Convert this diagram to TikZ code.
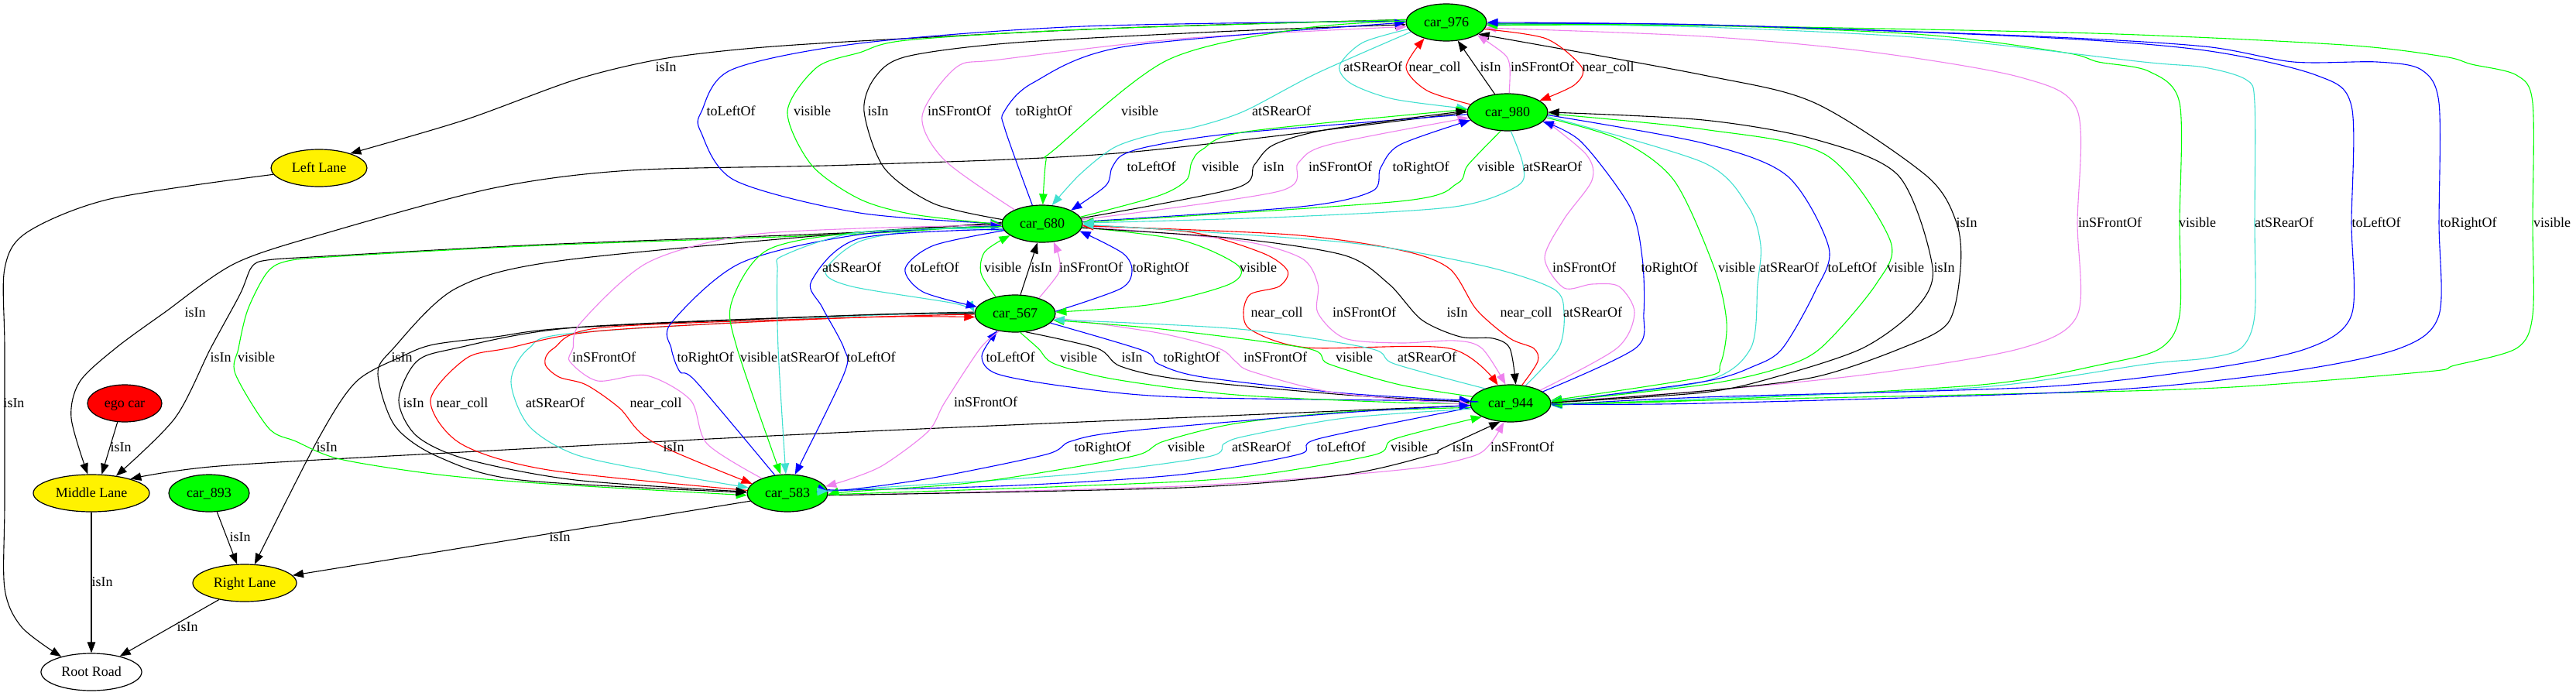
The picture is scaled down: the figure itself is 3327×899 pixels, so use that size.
\documentclass[tikz,border=0pt]{standalone}
\usepackage{fontspec}
\setmainfont{Liberation Serif}
\usetikzlibrary{shapes.geometric,arrows.meta}
\definecolor{turq}{HTML}{40E0D0}
\definecolor{viol}{HTML}{EE82EE}
\definecolor{lime}{HTML}{00FF00}
\newcounter{lbn}
\newcommand{\edgeline}[2]{\draw[conn,#1] plot[smooth,tension=0.5] coordinates {#2};}
\newcommand{\lbl}[3]{\stepcounter{lbn}\node[lab,name=lb\thelbn] at (#1,#2+5.5) {#3};}
\tikzset{
  carn/.style={draw=black,line width=1.2pt,ellipse,inner sep=0pt,text height=11.5pt,text depth=0pt,minimum height=48pt,font=\fontsize{18}{20}\selectfont},
  conn/.style={line width=1.1pt,-{Triangle[length=14pt,width=10.5pt]}},
  lab/.style={anchor=base,inner sep=0pt,font=\fontsize{18}{20}\selectfont}
}
\begin{document}
\begin{tikzpicture}[x=1pt,y=-1pt]
\useasboundingbox (0,0) rectangle (3327,899);
\fill[white] (0,0) rectangle (3327,899);
% nodes
\node[carn,fill=lime,minimum width=104pt] (c976) at (1868,29) {car\_976};
\node[carn,fill=lime,minimum width=104pt] (c980) at (1947,145) {car\_980};
\node[carn,fill=lime,minimum width=104pt] (c680) at (1346,289) {car\_680};
\node[carn,fill=lime,minimum width=104pt] (c567) at (1311,405) {car\_567};
\node[carn,fill=lime,minimum width=104pt] (c944) at (1951,521) {car\_944};
\node[carn,fill=lime,minimum width=104pt] (c583) at (1017,637) {car\_583};
\node[carn,fill=lime,minimum width=104pt] (c893) at (270,637) {car\_893};
\node[carn,fill=red,minimum width=96pt] (ego) at (161,521) {ego car};
\node[carn,fill=yellow,minimum width=124pt] (left) at (412,217) {Left Lane};
\node[carn,fill=yellow,minimum width=150pt] (mid) at (118,637) {Middle Lane};
\node[carn,fill=yellow,minimum width=134pt] (right) at (316,753) {Right Lane};
\node[carn,fill=white,minimum width=130pt] (root) at (118,868) {Root Road};
% lanes and roads
\edgeline{black}{(c976.176) (1450,36) (1110,53) (963,63) (850,77) (743,103) (600,155) (left.25)}
\edgeline{black}{(left.188) (142,257) (35,300) (6,347) (6,450) (6,650) (6,760) (28,810) (root.153)}
\draw[conn,black] (mid.270) -- (root.90);
\draw[conn,black] (ego.249) -- (mid.61);
\draw[conn,black] (c893.293) -- (right.112);
\draw[conn,black] (c583.192) -- (right.9);
\draw[conn,black] (right.213) -- (root.29);
\edgeline{black}{(c680.178) (1110,300) (700,316) (420,331) (345,336) (325,345) (310,380) (272,450) (226,540) (mid.35)}
\edgeline{black}{(c944.183) (1100,558) (616,583) (283,602) (mid.20)}
\edgeline{black}{(c980.180) (1454,197) (1100,213) (814,220) (637,243) (425,300) (304,340) (212,404) (149,450) (103,493) (92,540) (mid.101)}
\edgeline{black}{(c567.178) (1110,407) (743,423) (640,435) (560,445) (520,460) (460,493) (411,567) (right.62)}
% 976 <-> 944 (far right)
\edgeline{viol}{(c944.2) (2200,505) (2416,483) (2610,450) (2683,407) (2683,288) (2683,143) (2610,100) (2416,67) (2200,47) (c976.352)}
\edgeline{lime}{(c944.358) (2200,517) (2559,497) (2718,470) (2790,450) (2815,407) (2815,288) (2815,133) (2775,92) (2710,80) (2667,68) (2487,45) (2200,33) (c976.356)}
\edgeline{black}{(c944.1) (2200,505) (2344,487) (2455,450) (2516,417) (2532,347) (2527,288) (2488,227) (2344,133) (2200,97) (c976.340)}
\edgeline{turq}{(c976.358) (2200,35) (2500,50) (2768,80) (2847,87) (2901,103) (2912,133) (2912,288) (2912,407) (2894,450) (2847,463) (2775,470) (2559,500) (2200,515) (c944.357)}
\edgeline{blue}{(c976.358) (2200,32) (2631,48) (2847,65) (2991,97) (3037,137) (3037,288) (3037,407) (2980,450) (2847,477) (2631,500) (2200,513) (c944.358)}
\edgeline{lime}{(c976.358) (2200,33) (2703,43) (3027,58) (3156,73) (3192,83) (3250,97) (3271,133) (3271,288) (3271,407) (3250,450) (3170,472) (3135,480) (2883,500) (2631,508) (2200,517) (c944.359)}
\edgeline{blue}{(c944.359) (2200,521) (2703,505) (2955,480) (3099,450) (3150,407) (3150,288) (3150,133) (3127,90) (3070,80) (2962,80) (2847,60) (2631,47) (2200,32) (c976.0)}
% 980 -> 944 right side
\edgeline{lime}{(c980.352) (2091,180) (2162,233) (2214,346) (2230,417) (2222,470) (2200,487) (c944.4)}
\edgeline{turq}{(c980.354) (2200,210) (2258,267) (2274,317) (2270,367) (2261,450) (2200,493) (c944.3)}
\edgeline{blue}{(c980.356) (2200,185) (2308,227) (2362,320) (2344,377) (2302,450) (2265,473) (2200,493) (c944.2)}
\edgeline{lime}{(c980.358) (2200,167) (2358,200) (2441,310) (2423,367) (2351,450) (2293,477) (2200,497) (c944.2)}
\edgeline{black}{(c944.1) (2200,507) (2293,487) (2405,450) (2473,400) (2496,346) (2452,227) (2344,180) (2200,155) (c980.0)}
\edgeline{viol}{(c944.24) (2088,450) (2111,404) (2091,370) (2056,367) (2020,372) (1995,333) (2020,283) (2056,233) (2049,200) (c980.348)}
\edgeline{blue}{(c944.20) (2112,450) (2123,404) (2121,333) (2105,267) (2042,183) (c980.345)}
% 976 <-> 980
\edgeline{turq}{(c976.190) (1760,55) (1730,85) (1745,108) (1800,128) (c980.175)}
\edgeline{red}{(c980.168) (1843,117) (1816,87) (c976.216)}
\draw[conn,black] (c980.125) -- (c976.302);
\edgeline{viol}{(c980.85) (1950,87) (1943,70) (c976.338)}
\edgeline{red}{(c976.350) (1997,50) (2043,87) (2033,110) (c980.20)}
% 976 <-> 680
\edgeline{blue}{(c976.178) (1400,34) (1110,56) (945,90) (906,144) (905,170) (949,233) (1110,275) (c680.180)}
\edgeline{lime}{(c976.176) (1400,38) (1171,52) (1110,68) (1055,87) (1017,144) (1048,213) (1110,257) (1180,277) (c680.181)}
\edgeline{black}{(c680.174) (1206,263) (1142,217) (1116,144) (1130,100) (1171,73) (1312,55) (1595,40) (c976.183)}
\edgeline{viol}{(c680.153) (1220,207) (1191,150) (1235,87) (1291,77) (1525,50) (c976.186)}
\edgeline{blue}{(c680.118) (1298,167) (1297,144) (1334,107) (1454,60) (c976.180)}
\edgeline{lime}{(c976.178) (1680,37) (1507,78) (1362,193) (1351,207) (c680.88)}
\edgeline{turq}{(c976.195) (1700,95) (1606,144) (1540,165) (1496,172) (1440,190) (1395,225) (c680.62)}
% 980 <-> 680
\edgeline{blue}{(c980.183) (1596,172) (1490,188) (1450,200) (1436,217) (1428,240) (c680.25)}
\edgeline{lime}{(c680.10) (1496,253) (1532,233) (1539,210) (1553,193) (1610,170) (c980.176)}
\edgeline{black}{(c680.8) (1596,243) (1620,213) (1645,187) (1716,167) (c980.178)}
\edgeline{viol}{(c680.6) (1652,247) (1677,210) (1716,187) (c980.188)}
\edgeline{blue}{(c680.3) (1680,267) (1772,247) (1783,217) (1808,187) (c980.192)}
\edgeline{lime}{(c980.250) (1896,213) (1882,237) (1808,260) (c680.2)}
\edgeline{turq}{(c980.280) (1967,213) (1960,240) (1879,267) (1666,280) (c680.1)}
% 680 <-> 567
\edgeline{turq}{(c680.190) (1200,296) (1110,312) (1066,350) (1100,370) (1233,392) (c567.178)}
\edgeline{blue}{(c680.190) (1206,317) (1169,347) (1192,377) (c567.170)}
\edgeline{lime}{(c567.139) (1267,353) (1272,325) (c680.200)}
\draw[conn,black] (c567.74) -- (c680.256);
\edgeline{viol}{(c567.33) (1367,353) (1368,333) (c680.302)}
\edgeline{blue}{(c567.3) (1447,373) (1462,350) (1450,327) (c680.349)}
\edgeline{lime}{(c680.355) (1525,310) (1599,343) (1588,367) (1489,393) (c567.2)}
% 680 <-> 944
\edgeline{red}{(c680.358) (1539,300) (1631,327) (1663,350) (1652,370) (1615,380) (1606,404) (1617,427) (1688,449) (1872,450) (c944.125)}
\edgeline{viol}{(c680.356) (1596,310) (1680,333) (1702,367) (1702,404) (1737,437) (1808,443) (1879,440) (1914,450) (c944.105)}
\edgeline{black}{(c680.354) (1596,308) (1737,330) (1794,367) (1836,413) (1886,435) (1928,437) (1950,450) (c944.75)}
\edgeline{red}{(c944.58) (1986,467) (1981,450) (1950,437) (1907,400) (1872,347) (1808,323) (1666,303) (c680.357)}
\edgeline{turq}{(c944.50) (2013,450) (2020,404) (2006,373) (1914,343) (1737,313) (c680.359)}
% 567 <-> 944
\edgeline{blue}{(c944.178) (1879,518) (1525,513) (1383,500) (1288,483) (1268,460) (c567.224)}
\edgeline{viol}{(c567.228) (1266,450) (1220,520) (1199,557) (1142,600) (1100,618) (c583.10)}
\edgeline{lime}{(c567.285) (1341,450) (1362,470) (1440,490) (1596,510) (1808,520) (c944.180)}
\edgeline{black}{(c567.300) (1417,450) (1447,473) (1525,490) (1737,510) (c944.178)}
\edgeline{blue}{(c567.345) (1477,453) (1496,470) (1553,487) (1737,508) (c944.176)}
\edgeline{viol}{(c567.354) (1496,430) (1574,450) (1596,467) (1617,480) (1723,507) (c944.182)}
\edgeline{lime}{(c944.170) (1808,497) (1716,470) (1688,450) (1500,425) (c567.350)}
\edgeline{turq}{(c944.150) (1801,470) (1769,450) (1600,425) (c567.351)}
% 583 <-> 944
\edgeline{viol}{(c583.357) (1525,628) (1808,607) (1900,590) (1925,573) (c944.250)}
\edgeline{black}{(c583.357) (1525,630) (1737,613) (1850,587) (1861,580) (c944.240)}
\edgeline{lime}{(c583.358) (1383,628) (1596,617) (1773,588) (1801,567) (c944.205)}
\edgeline{blue}{(c944.186) (1702,567) (1677,587) (1525,613) (1312,627) (1100,633) (c583.2)}
\edgeline{turq}{(c944.188) (1737,540) (1610,563) (1581,573) (1560,590) (1383,613) (1100,632) (c583.3)}
\edgeline{lime}{(c944.186) (1737,532) (1596,547) (1503,570) (1468,588) (1348,610) (1242,625) (1100,635) (c583.358)}
\edgeline{blue}{(c583.5) (1100,632) (1206,617) (1351,587) (1383,570) (1454,557) (1737,533) (c944.183)}
% 680 / 567 <-> 583
\edgeline{lime}{(c680.181) (1110,302) (700,317) (440,331) (372,337) (345,352) (320,400) (308,450) (304,483) (347,553) (382,570) (439,593) (566,613) (708,625) (c583.183)}
\edgeline{black}{(c680.180) (1110,300) (722,337) (588,373) (508,450) (488,483) (510,550) (566,590) (672,620) (c583.179)}
\edgeline{turq}{(c567.179) (1110,408) (743,430) (683,450) (660,493) (683,550) (743,587) (850,610) (c583.172)}
\edgeline{red}{(c583.176) (708,607) (595,573) (556,517) (602,463) (655,450) (779,427) (1110,410) (c567.185)}
\edgeline{red}{(c567.181) (1110,410) (779,423) (715,450) (704,470) (722,487) (757,497) (800,527) (842,570) (c583.165)}
\edgeline{black}{(c567.180) (1110,407) (743,423) (588,450) (538,467) (515,517) (538,563) (602,593) (743,620) (c583.178)}
\edgeline{viol}{(c583.150) (913,573) (892,517) (835,485) (772,492) (736,467) (740,450) (750,417) (835,340) (956,305) (1110,295) (c680.182)}
\edgeline{blue}{(c583.125) (899,493) (878,480) (867,450) (867,417) (956,340) (1110,303) (c680.183)}
\edgeline{lime}{(c680.184) (1110,300) (991,323) (945,390) (952,450) (c583.110)}
\edgeline{turq}{(c680.186) (1110,300) (1012,330) (1004,350) (1005,450) (c583.95)}
\edgeline{blue}{(c680.188) (1110,308) (1048,363) (1062,397) (1090,450) (1090,483) (c583.68)}
% labels
\lbl{860}{87}{isIn}
\lbl{944}{144}{toLeftOf}
\lbl{1049}{144}{visible}
\lbl{252}{404}{isIn}
\lbl{18}{521}{isIn}
\lbl{285}{462}{isIn}
\lbl{331}{462}{visible}
\lbl{519}{462}{isIn}
\lbl{780}{462}{inSFrontOf}
\lbl{911}{462}{toRightOf}
\lbl{980}{462}{visible}
\lbl{1046}{462}{atSRearOf}
\lbl{1125}{462}{toLeftOf}
\lbl{156}{578}{isIn}
\lbl{422}{578}{isIn}
\lbl{534}{521}{isIn}
\lbl{597}{521}{near\_coll}
\lbl{717}{521}{atSRearOf}
\lbl{847}{521}{near\_coll}
\lbl{870}{578}{isIn}
\lbl{310}{694}{isIn}
\lbl{723}{694}{isIn}
\lbl{132}{752}{isIn}
\lbl{242}{810}{isIn}
\lbl{1773}{87}{atSRearOf}
\lbl{1853}{87}{near\_coll}
\lbl{1925}{87}{isIn}
\lbl{1992}{87}{inSFrontOf}
\lbl{2077}{87}{near\_coll}
\lbl{1134}{144}{isIn}
\lbl{1239}{144}{inSFrontOf}
\lbl{1348}{144}{toRightOf}
\lbl{1472}{144}{visible}
\lbl{1655}{144}{atSRearOf}
\lbl{1487}{216}{toLeftOf}
\lbl{1576}{216}{visible}
\lbl{1645}{216}{isIn}
\lbl{1731}{216}{inSFrontOf}
\lbl{1835}{216}{toRightOf}
\lbl{1932}{216}{visible}
\lbl{2005}{216}{atSRearOf}
\lbl{1100}{346}{atSRearOf}
\lbl{1207}{346}{toLeftOf}
\lbl{1295}{346}{visible}
\lbl{1345}{346}{isIn}
\lbl{1409}{346}{inSFrontOf}
\lbl{1499}{346}{toRightOf}
\lbl{1625}{346}{visible}
\lbl{2046}{346}{inSFrontOf}
\lbl{2156}{346}{toRightOf}
\lbl{1649}{404}{near\_coll}
\lbl{1762}{404}{inSFrontOf}
\lbl{1882}{404}{isIn}
\lbl{1971}{404}{near\_coll}
\lbl{2057}{404}{atSRearOf}
\lbl{2540}{288}{isIn}
\lbl{2725}{288}{inSFrontOf}
\lbl{2838}{288}{visible}
\lbl{2950}{288}{atSRearOf}
\lbl{3069}{288}{toLeftOf}
\lbl{3188}{288}{toRightOf}
\lbl{3296}{288}{visible}
\lbl{2243}{346}{visible}
\lbl{2311}{346}{atSRearOf}
\lbl{2392}{346}{toLeftOf}
\lbl{2461}{346}{visible}
\lbl{2511}{346}{isIn}
\lbl{1305}{462}{toLeftOf}
\lbl{1393}{462}{visible}
\lbl{1462}{462}{isIn}
\lbl{1539}{462}{toRightOf}
\lbl{1647}{462}{inSFrontOf}
\lbl{1749}{462}{visible}
\lbl{1843}{462}{atSRearOf}
\lbl{1273}{520}{inSFrontOf}
\lbl{1424}{578}{toRightOf}
\lbl{1532}{578}{visible}
\lbl{1629}{578}{atSRearOf}
\lbl{1732}{578}{toLeftOf}
\lbl{1820}{578}{visible}
\lbl{1889}{578}{isIn}
\lbl{1966}{578}{inSFrontOf}
\end{tikzpicture}
\end{document}
